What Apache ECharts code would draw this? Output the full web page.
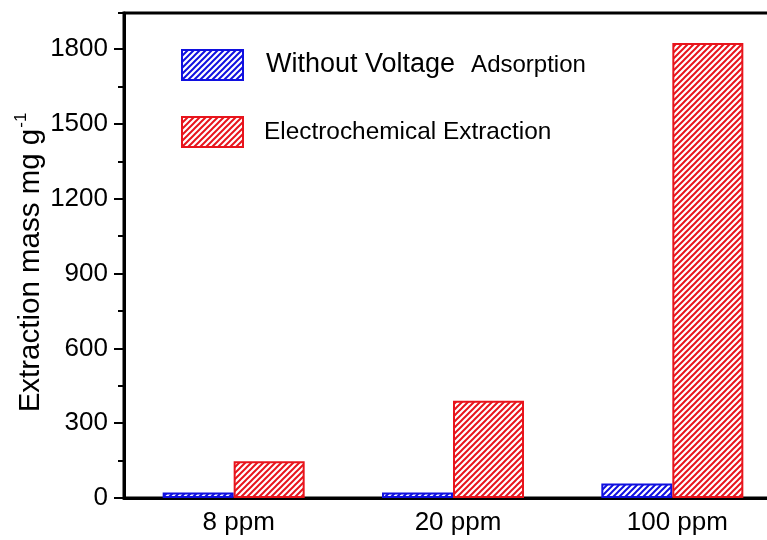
<!DOCTYPE html>
<html>
<head>
<meta charset="utf-8">
<title>Extraction mass</title>
<script src="https://cdn.jsdelivr.net/npm/echarts@6/dist/echarts.min.js"></script>
<style>
  html, body { margin: 0; padding: 0; background: #fff; }
  #chart { width: 767px; height: 540px; }
</style>
</head>
<body>
<div id="chart"></div>
<script>
// Concentrations on the x axis
const categories = ['8 ppm', '20 ppm', '100 ppm'];

// Extraction mass (mg g-1) for each condition
const withoutVoltage = [22, 22, 58];
const electrochemical = [147, 390, 1825];

// Y axis ticks
const yMax = 1945;
const yMajorTicks = [0, 300, 600, 900, 1200, 1500, 1800];
const yMinorTicks = [150, 450, 750, 1050, 1350, 1650, 1945];

const BLUE = '#1010e0';
const RED = '#e8141c';
const FONT = '"Liberation Sans", Arial, sans-serif';

// Diagonal hatch fill
function hatch(color) {
  const s = 6;
  const c = document.createElement('canvas');
  c.width = s; c.height = s;
  const ctx = c.getContext('2d');
  ctx.fillStyle = '#fff';
  ctx.fillRect(0, 0, s, s);
  ctx.strokeStyle = color;
  ctx.lineWidth = 2;
  ctx.beginPath();
  ctx.moveTo(0, s); ctx.lineTo(s, 0);
  ctx.moveTo(-s / 2, s / 2); ctx.lineTo(s / 2, -s / 2);
  ctx.moveTo(s / 2, s * 1.5); ctx.lineTo(s * 1.5, s / 2);
  ctx.stroke();
  return { image: c, repeat: 'repeat' };
}

const chart = echarts.init(document.getElementById('chart'), null, { renderer: 'canvas' });

chart.setOption({
  animation: false,
  backgroundColor: '#fff',
  textStyle: { fontFamily: FONT, color: '#000' },
  grid: {
    left: 124, top: 13, right: -15, bottom: 42,
    outerBoundsMode: 'none',
    containLabel: false,
    show: true, borderColor: '#000', borderWidth: 3, backgroundColor: 'transparent'
  },
  legend: {
    orient: 'vertical',
    left: 181, top: 49,
    padding: 0,
    icon: 'rect',
    itemWidth: 61, itemHeight: 30, itemGap: 35,
    data: ['Without Voltage Adsorption', 'Electrochemical Extraction'],
    formatter: function (name) {
      if (name === 'Without Voltage Adsorption') {
        return '{a|Without Voltage}{b|Adsorption}';
      }
      return '{c|Electrochemical Extraction}';
    },
    textStyle: {
      color: '#000',
      fontFamily: FONT,
      rich: {
        a: { fontSize: 27, fontFamily: FONT, color: '#000', padding: [0, 0, 0, 18] },
        b: { fontSize: 24, fontFamily: FONT, color: '#000', padding: [0, 0, 0, 16] },
        c: { fontSize: 24.4, fontFamily: FONT, color: '#000', padding: [0, 0, 0, 16] }
      }
    }
  },
  xAxis: {
    type: 'category',
    data: categories,
    axisLine: { show: true, onZero: false, lineStyle: { color: '#000', width: 3 } },
    axisTick: { show: false },
    axisLabel: {
      color: '#000', fontSize: 26, fontFamily: FONT, margin: 12,
      padding: [0, 0, 0, 10]
    },
    splitLine: { show: false }
  },
  yAxis: [
    {
      type: 'value',
      min: 0, max: yMax,
      position: 'left',
      name: '{n|Extraction mass mg g}{s|-1}',
      nameLocation: 'middle',
      nameGap: 76,
      nameRotate: 90,
      nameMoveOverlap: false,
      nameTextStyle: {
        padding: [0, 14, 0, 0],
        rich: {
          n: { fontSize: 29.5, fontFamily: FONT, color: '#000' },
          s: { fontSize: 17, fontFamily: FONT, color: '#000', padding: [0, 0, 18, 1] }
        }
      },
      axisLine: { show: true, lineStyle: { color: '#000', width: 3 } },
      axisTick: {
        show: true, inside: false, length: 10, customValues: yMajorTicks,
        lineStyle: { color: '#000', width: 2 }
      },
      axisLabel: {
        color: '#000', fontSize: 26, fontFamily: FONT, margin: 16,
        customValues: yMajorTicks,
        formatter: function (v) { return String(v); }
      },
      splitLine: { show: false }
    },
    {
      type: 'value',
      min: 0, max: yMax,
      position: 'left',
      axisLine: { show: false },
      axisTick: {
        show: true, inside: false, length: 6, customValues: yMinorTicks,
        lineStyle: { color: '#000', width: 2 }
      },
      axisLabel: { show: false },
      splitLine: { show: false }
    }
  ],
  series: [
    {
      name: 'Without Voltage Adsorption',
      type: 'bar',
      yAxisIndex: 0,
      data: withoutVoltage,
      barWidth: 71,
      barGap: '0%',
      itemStyle: { color: hatch(BLUE), borderColor: BLUE, borderWidth: 2 }
    },
    {
      name: 'Electrochemical Extraction',
      type: 'bar',
      yAxisIndex: 0,
      data: electrochemical,
      barWidth: 71,
      barGap: '0%',
      itemStyle: { color: hatch(RED), borderColor: RED, borderWidth: 2 }
    }
  ]
});
</script>
</body>
</html>
